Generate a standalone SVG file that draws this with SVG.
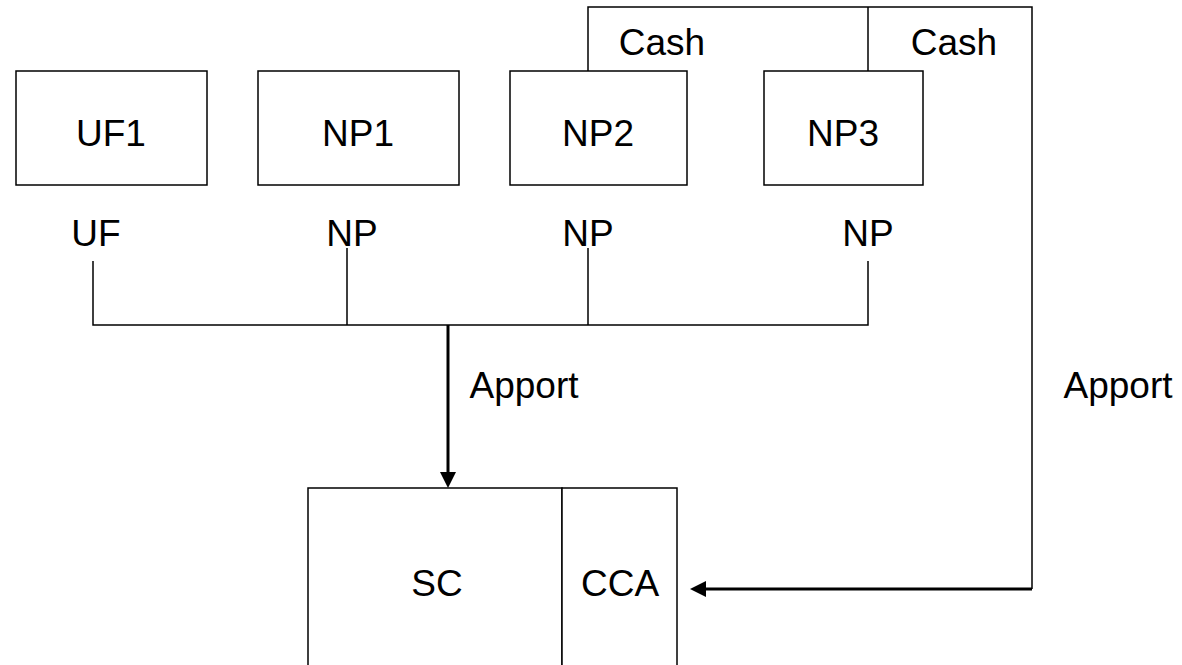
<svg xmlns="http://www.w3.org/2000/svg" width="1182" height="665" viewBox="0 0 1182 665">
<defs>
<style>
.box{fill:#fff;stroke:#000;stroke-width:1.5}
.ln{fill:none;stroke:#000;stroke-width:1.5}
.thk{fill:none;stroke:#000;stroke-width:3}
text{font-family:"Liberation Sans",Arial,sans-serif;font-size:37px;fill:#000;text-anchor:middle}
</style>
</defs>
<rect width="1182" height="665" fill="#fff"/>
<g id="UF1">
<rect class="box" x="16" y="71" width="191" height="114"/>
<text x="111" y="146">UF1</text>
<text x="96" y="246">UF</text>
</g>
<g id="NP1">
<rect class="box" x="258" y="71" width="201" height="114"/>
<text x="358" y="146">NP1</text>
<text x="352" y="246">NP</text>
</g>
<g id="NP2">
<rect class="box" x="510" y="71" width="177" height="114"/>
<text x="598" y="146">NP2</text>
<text x="588" y="246">NP</text>
</g>
<g id="NP3">
<rect class="box" x="764" y="71" width="159" height="114"/>
<text x="843" y="146">NP3</text>
<text x="868" y="246">NP</text>
</g>
<g id="SC">
<rect class="box" x="308" y="488" width="254" height="190"/>
<text x="437" y="596">SC</text>
</g>
<g id="CCA">
<rect class="box" x="562" y="488" width="115" height="190"/>
<text x="620" y="596">CCA</text>
</g>
<g id="connectors">
<path class="ln" d="M93,261 V325 H868 V261 M347,248 V325 M588,248 V325"/>
<path class="ln" d="M588,71 V7 H1032 V589 M868,71 V7"/>
<line class="thk" x1="448" y1="325" x2="448" y2="474"/>
<path d="M440,472 L456,472 L448,488 Z" fill="#000"/>
<line class="thk" x1="1032" y1="589" x2="704" y2="589"/>
<path d="M706,581 L706,597 L690,589 Z" fill="#000"/>
<text x="524" y="398">Apport</text>
<text x="1118" y="398">Apport</text>
<text x="662" y="55">Cash</text>
<text x="954" y="55">Cash</text>
</g>
</svg>
